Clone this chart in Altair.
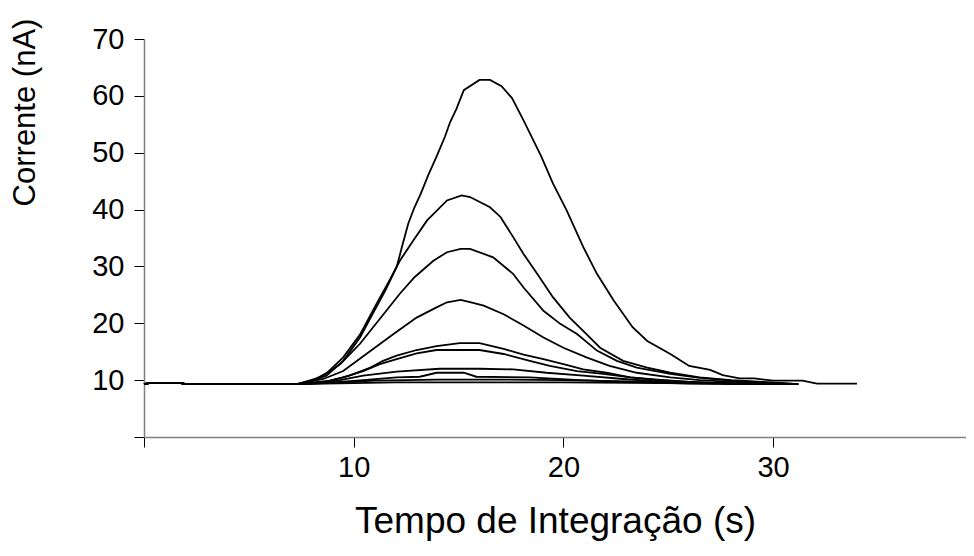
import altair as alt
import pandas as pd

# shared lead-in (flat baseline at start)
lead_x = [0.0, 0.3, 1.7, 2.0]
lead_y = [9.3, 9.5, 9.5, 9.3]

a_x = [7.3, 7.9, 8.7, 9.5, 10.3, 10.9, 11.5, 12.05, 12.3, 12.6, 12.9, 13.2, 13.55, 13.95, 14.35, 14.6, 14.9, 15.25, 16.0, 16.5, 17.05, 17.55, 18.1, 18.95, 19.5, 20.15, 20.95, 21.6, 22.4, 23.3, 24.0, 25.1, 26.0, 27.0, 27.6, 28.4, 29.1, 30.0, 31.4, 32.1, 34.0]
a_y = [9.3, 9.8, 10.8, 13.4, 17.5, 21.6, 25.7, 29.9, 33.4, 37.5, 40.4, 42.8, 46.0, 49.3, 52.8, 55.4, 57.7, 61.0, 62.8, 62.8, 61.7, 59.6, 55.7, 49.3, 44.6, 39.9, 33.4, 28.7, 24.0, 19.3, 16.9, 14.6, 12.5, 11.8, 10.9, 10.3, 10.3, 9.9, 9.9, 9.4, 9.4]

b_x = [7.3, 8.0, 8.7, 9.5, 10.3, 11.1, 11.7, 12.2, 12.85, 13.5, 14.45, 15.15, 15.55, 16.5, 17.0, 17.6, 18.1, 18.75, 19.5, 20.3, 21.1, 21.75, 22.85, 24.0, 25.1, 26.5, 28.0, 29.5, 31.2]
b_y = [9.3, 9.9, 11.2, 14.0, 18.0, 23.5, 27.5, 31.0, 34.6, 38.1, 41.6, 42.5, 42.2, 40.4, 38.7, 35.2, 32.2, 28.7, 24.6, 21.0, 18.1, 15.7, 13.4, 12.2, 11.3, 10.5, 10.0, 9.7, 9.3]

c_x = [7.3, 8.4, 9.35, 10.3, 11.25, 12.2, 12.9, 13.8, 14.45, 15.1, 15.55, 16.65, 17.6, 18.1, 19.05, 19.85, 20.65, 21.6, 22.55, 23.5, 25.1, 26.5, 28.0, 29.5, 31.2]
c_y = [9.3, 10.5, 12.8, 16.4, 20.8, 25.2, 28.1, 31.0, 32.5, 33.1, 33.1, 31.6, 28.7, 26.3, 22.2, 19.9, 18.1, 15.2, 13.4, 12.2, 11.1, 10.4, 9.9, 9.6, 9.3]

d_x = [7.3, 8.55, 9.5, 10.6, 11.9, 13.0, 13.95, 14.45, 15.1, 15.55, 16.2, 17.15, 18.1, 19.05, 20.0, 21.1, 22.2, 23.5, 25.1, 26.5, 28.0, 29.5, 31.2]
d_y = [9.3, 10.2, 11.6, 14.6, 18.1, 21.0, 22.8, 23.7, 24.1, 23.7, 23.1, 21.6, 19.6, 17.5, 15.7, 14.0, 12.5, 11.3, 10.5, 10.0, 9.7, 9.5, 9.3]

e_x = [7.3, 8.9, 9.8, 10.8, 11.4, 12.05, 13.0, 13.95, 15.05, 16.0, 17.15, 18.1, 19.05, 20.0, 20.95, 22.05, 23.2, 24.5, 26.0, 28.0, 30.0]
e_y = [9.3, 9.9, 10.8, 12.2, 13.4, 14.3, 15.3, 16.0, 16.5, 16.5, 15.5, 14.5, 13.7, 12.8, 11.9, 11.3, 10.5, 10.0, 9.7, 9.4, 9.3]

f_x = [7.3, 8.6, 9.5, 10.45, 11.25, 12.05, 13.0, 13.95, 16.0, 17.15, 18.4, 19.35, 20.65, 21.9, 23.2, 24.5, 26.0, 28.0, 31.2]
f_y = [9.3, 9.7, 10.5, 11.6, 12.8, 13.7, 14.7, 15.3, 15.3, 14.6, 13.4, 12.5, 11.6, 11.1, 10.5, 10.1, 9.7, 9.4, 9.3]

g_x = [7.3, 8.5, 9.35, 10.45, 12.05, 14.1, 16.0, 17.6, 19.2, 20.95, 22.85, 24.5, 26.5, 28.5, 31.2]
g_y = [9.3, 9.5, 10.0, 10.8, 11.5, 12.0, 12.0, 11.9, 11.3, 10.8, 10.2, 9.8, 9.5, 9.4, 9.3]

h_x = [7.3, 9.0, 10.45, 12.05, 13.15, 13.95, 15.25, 15.85, 18.4, 20.8, 23.0, 26.0, 31.2]
h_y = [9.3, 9.6, 10.0, 10.5, 10.6, 11.3, 11.3, 10.6, 10.5, 10.0, 9.7, 9.4, 9.3]

i_x = [7.3, 9.5, 11.0, 14.0, 17.0, 20.0, 23.0, 26.0, 30.0]
i_y = [9.3, 9.6, 9.9, 10.1, 10.1, 10.0, 9.8, 9.5, 9.3]

j_x = [7.3, 12.0, 20.0, 31.2]
j_y = [9.3, 9.6, 9.6, 9.3]

curves = {
    "A": (a_x, a_y), "B": (b_x, b_y), "C": (c_x, c_y), "D": (d_x, d_y),
    "E": (e_x, e_y), "F": (f_x, f_y), "G": (g_x, g_y), "H": (h_x, h_y),
    "I": (i_x, i_y), "J": (j_x, j_y),
}

rows = []
for name, (xs, ys) in curves.items():
    for k, (x, y) in enumerate(zip(lead_x + xs, lead_y + ys)):
        rows.append({"curve": name, "t": x, "i": y, "k": k})
df = pd.DataFrame(rows)

FONT = "Liberation Sans"

chart = alt.Chart(df).mark_line(color="black", strokeWidth=1.8).encode(
    x=alt.X("t:Q", scale=alt.Scale(domain=[0, 39.2], nice=False, zero=False),
            axis=alt.Axis(values=[0, 10, 20, 30], title="Tempo de Integração (s)",
                          labelExpr="datum.value == 0 ? '' : datum.label",
                          labelPadding=6, titlePadding=21, titleFontSize=37)),
    y=alt.Y("i:Q", scale=alt.Scale(domain=[0, 70], nice=False),
            axis=alt.Axis(values=[0, 10, 20, 30, 40, 50, 60, 70], title="Corrente (nA)",
                          labelExpr="datum.value == 0 ? '' : datum.label",
                          labelPadding=10, titleX=-119, titleY=73, titleFontSize=31,
                          titleAlign="center", titleBaseline="middle")),
    detail="curve:N",
    order="k:Q",
).properties(
    width=822, height=398,
    padding={"left": 136, "top": 31, "right": 0, "bottom": 110},
    autosize=alt.AutoSizeParams(type="none"),
).configure_view(stroke=None).configure_axis(
    grid=False, domainColor="#808080", domainWidth=1.5, tickColor="black", tickSize=10,
    labelFont=FONT, labelFontSize=29, labelColor="black",
    titleFont=FONT, titleColor="black", titleFontWeight="normal",
)

chart.save("out.html", embed_options={"renderer": "svg", "actions": False})
